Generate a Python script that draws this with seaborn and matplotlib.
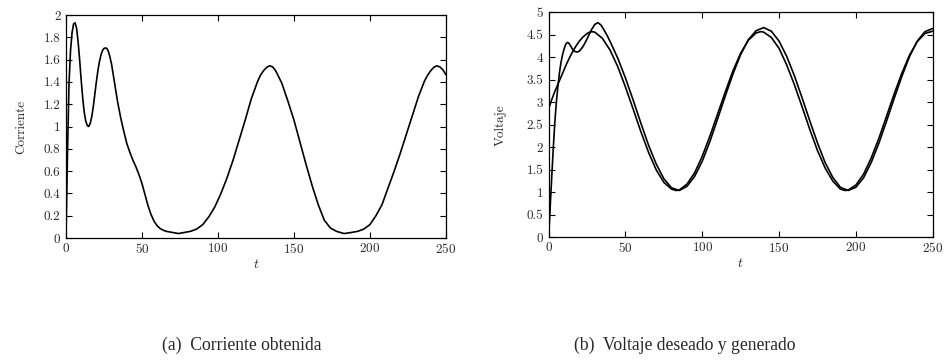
import numpy as np
import pandas as pd
import matplotlib
matplotlib.use("Agg")
import matplotlib.pyplot as plt
import seaborn as sns
from matplotlib.ticker import FormatStrFormatter, MultipleLocator

# (a) current
t_corr = [0, 1, 2, 3, 4, 5, 6, 7, 8, 9, 10, 11, 12, 13, 14, 15, 16, 17, 18, 19,
          20, 21, 22, 23, 24, 25, 26, 27, 28, 29, 30, 32, 34, 36, 38, 40, 42, 44,
          46, 48, 50, 52, 54, 56, 58, 60, 62, 64, 66, 70, 74, 78, 82, 86, 90, 94,
          98, 102, 106, 110, 114, 118, 122, 126, 128, 130, 132, 134, 136, 138,
          142, 146, 150, 154, 158, 162, 166, 170, 174, 178, 183, 188, 192, 196,
          200, 204, 208, 212, 216, 220, 224, 228, 232, 236, 238, 240, 242, 244,
          246, 248, 250]
corriente = [0.0, 0.75, 1.38, 1.68, 1.84, 1.92, 1.93, 1.88, 1.76, 1.60, 1.42,
             1.26, 1.13, 1.05, 1.01, 1.00, 1.03, 1.09, 1.18, 1.29, 1.40, 1.50,
             1.58, 1.64, 1.68, 1.70, 1.705, 1.70, 1.67, 1.62, 1.56, 1.39, 1.22,
             1.08, 0.96, 0.85, 0.77, 0.70, 0.64, 0.57, 0.49, 0.39, 0.29, 0.21,
             0.15, 0.11, 0.085, 0.07, 0.06, 0.05, 0.04, 0.05, 0.06, 0.08, 0.12,
             0.19, 0.28, 0.40, 0.54, 0.70, 0.88, 1.06, 1.25, 1.40, 1.46, 1.50,
             1.53, 1.545, 1.535, 1.50, 1.39, 1.23, 1.06, 0.86, 0.66, 0.47, 0.30,
             0.16, 0.09, 0.06, 0.04, 0.05, 0.06, 0.08, 0.12, 0.20, 0.30, 0.45,
             0.60, 0.76, 0.93, 1.10, 1.27, 1.41, 1.46, 1.50, 1.53, 1.545, 1.535,
             1.51, 1.465]

# (b) desired voltage
t_des = [0, 2, 4, 6, 8, 10, 12, 14, 16, 18, 20, 22, 24, 26, 28, 30, 35, 40, 45,
         50, 55, 60, 65, 70, 75, 80, 83, 85, 90, 95, 100, 105, 110, 115, 120,
         125, 130, 135, 138, 140, 145, 150, 155, 160, 165, 170, 175, 180, 185,
         190, 193, 195, 200, 205, 210, 215, 220, 225, 230, 235, 240, 245, 250]
v_deseado = [2.86, 3.06, 3.24, 3.40, 3.56, 3.72, 3.88, 4.02, 4.15, 4.26, 4.36,
             4.44, 4.50, 4.55, 4.57, 4.56, 4.42, 4.16, 3.79, 3.34, 2.85, 2.35,
             1.89, 1.50, 1.22, 1.07, 1.04, 1.05, 1.18, 1.43, 1.80, 2.25, 2.74,
             3.23, 3.70, 4.09, 4.38, 4.54, 4.57, 4.56, 4.44, 4.20, 3.83, 3.39,
             2.90, 2.40, 1.93, 1.54, 1.25, 1.07, 1.04, 1.05, 1.16, 1.40, 1.76,
             2.20, 2.69, 3.19, 3.65, 4.05, 4.35, 4.53, 4.58]

# (b) generated voltage
t_gen = [0, 1, 2, 3, 4, 5, 6, 7, 8, 9, 10, 11, 12, 13, 14, 15, 16, 17, 18, 19,
         20, 22, 24, 26, 28, 30, 32, 34, 36, 38, 40, 45, 50, 55, 60, 65, 70, 75,
         80, 85, 90, 95, 100, 105, 110, 115, 120, 125, 130, 135, 140, 145, 150,
         155, 160, 165, 170, 175, 180, 185, 190, 195, 200, 205, 210, 215, 220,
         225, 230, 235, 240, 245, 250]
v_generado = [0.0, 0.68, 1.34, 1.98, 2.55, 3.00, 3.35, 3.65, 3.88, 4.05, 4.18,
              4.28, 4.33, 4.32, 4.27, 4.21, 4.16, 4.13, 4.12, 4.12, 4.14, 4.22,
              4.34, 4.48, 4.62, 4.73, 4.77, 4.72, 4.61, 4.49, 4.35, 3.98, 3.54,
              3.05, 2.54, 2.05, 1.63, 1.30, 1.10, 1.04, 1.13, 1.35, 1.69, 2.13,
              2.63, 3.14, 3.63, 4.06, 4.39, 4.59, 4.66, 4.58, 4.36, 4.02, 3.59,
              3.10, 2.59, 2.10, 1.66, 1.33, 1.11, 1.04, 1.11, 1.32, 1.66, 2.09,
              2.58, 3.09, 3.58, 4.02, 4.36, 4.57, 4.64]

sns.set_theme(style="ticks")
plt.rcParams["font.family"] = ["cmr10", "DejaVu Serif"]
plt.rcParams["axes.formatter.use_mathtext"] = True
plt.rcParams["mathtext.fontset"] = "cm"

fig = plt.figure(figsize=(9.45, 3.62), dpi=100)
ax1 = fig.add_axes([0.0698, 0.3425, 0.402, 0.616])
ax2 = fig.add_axes([0.5806, 0.3445, 0.4063, 0.6215])

df_a = pd.DataFrame({"t": t_corr, "y": corriente})
df_d = pd.DataFrame({"t": t_des, "y": v_deseado})
df_g = pd.DataFrame({"t": t_gen, "y": v_generado})

line_kw = dict(x="t", y="y", color="black", linewidth=1.2, sort=False, estimator=None)
sns.lineplot(data=df_a, ax=ax1, **line_kw)
sns.lineplot(data=df_d, ax=ax2, **line_kw)
sns.lineplot(data=df_g, ax=ax2, **line_kw)

for ax, ymax, ystep, ylab, lpad in [(ax1, 2, 0.2, "Corriente", 12),
                                    (ax2, 5, 0.5, "Voltaje", 14)]:
    ax.set_xlim(0, 250)
    ax.set_ylim(0, ymax)
    ax.xaxis.set_major_locator(MultipleLocator(50))
    ax.yaxis.set_major_locator(MultipleLocator(ystep))
    ax.yaxis.set_major_formatter(FormatStrFormatter("%g"))
    ax.tick_params(direction="in", length=4.5, width=0.8, labelsize=9.5,
                   top=True, right=True, colors="black", labelcolor="#2a2a2a")
    ax.tick_params(axis="x", pad=3)
    ax.tick_params(axis="y", pad=4)
    for s in ax.spines.values():
        s.set_linewidth(0.9)
        s.set_color("black")
    ax.set_xlabel("$t$", fontsize=10, labelpad=1, color="#2a2a2a")
    ax.set_ylabel(ylab, fontsize=9.5, labelpad=lpad, color="#2a2a2a")

cap = dict(fontsize=12.7, family="Liberation Serif", ha="center", va="center")
fig.text(0.256, 0.047, "(a)  Corriente obtenida", **cap)
fig.text(0.725, 0.047, "(b)  Voltaje deseado y generado", **cap)

fig.savefig("out.png", dpi=100)
